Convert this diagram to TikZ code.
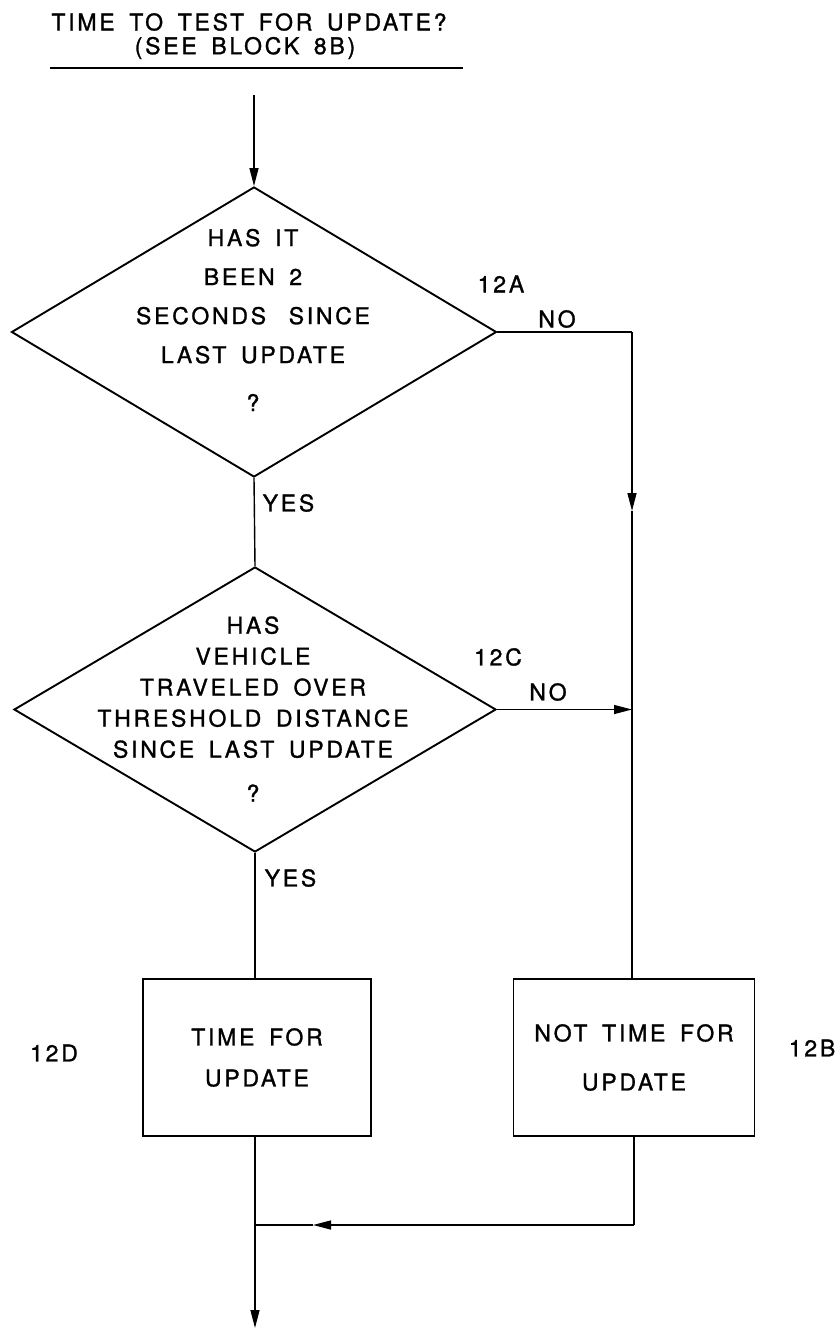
\documentclass[tikz,border=0pt]{standalone}
\usepackage{fontspec}
\setmainfont[LetterSpace=12,WordSpace=1.6,FakeBold=1.2]{TeX Gyre Heros}
\usetikzlibrary{shapes.geometric,arrows.meta}
\begin{document}
\begin{tikzpicture}[x=1pt,y=-1pt,
  line width=1.4pt,
  every node/.style={font=\fontsize{23}{27}\selectfont, inner sep=0pt},
  decision/.style={diamond, draw, line width=1.9pt, minimum width=485pt, minimum height=290pt, inner sep=0pt},
  procbox/.style={rectangle, draw, line width=1.9pt, minimum width=230pt, minimum height=157pt},
  lbl/.style={font=\fontsize{23}{27}\selectfont},
  arr/.style={-{Triangle[length=18pt,width=9pt]}}
]
\useasboundingbox (0,0) rectangle (837,1330);

% title
\node (t1) at (249,22) {TIME TO TEST FOR UPDATE?};
\node (t2) at (245,48) {(SEE BLOCK 8B)};
\coordinate (ul) at (50,68);
\coordinate (ur) at (463,68);
\draw[line width=1.8pt] (ul) -- (ur);

% decisions
\node[decision] (d1) at (254,332) {};
\node[align=center, font=\fontsize{23}{39}\selectfont] (d1t) at (253,320)
  {HAS IT\\BEEN 2\\SECONDS\hspace{8pt} SINCE\\LAST UPDATE\\[9pt]?};
\node[decision, minimum height=285pt, minimum width=482pt] (d2) at (255,709.5) {};
\node[align=center, font=\fontsize{23}{31}\selectfont] (d2t) at (253,709)
  {HAS\\VEHICLE\\TRAVELED OVER\\THRESHOLD DISTANCE\\SINCE LAST UPDATE\\[13pt]?};

% boxes
\node[procbox, minimum width=228pt, align=center, font=\fontsize{23}{41}\selectfont] (b1) at (257,1057.5) {TIME FOR\\UPDATE};
\node[procbox, minimum width=241pt, align=center, font=\fontsize{23}{49}\selectfont] (b2) at (634,1057.5) {NOT TIME FOR\\UPDATE};

% labels
\node[lbl] (l12a) at (501,284) {12A};
\node[lbl] (l12c) at (498,657) {12C};
\node[lbl] (l12d) at (54,1053) {12D};
\node[lbl, anchor=east] (l12b) at (836,1048) {12B};
\node[lbl] (no1) at (557,319) {NO};
\node[lbl] (no2) at (548,692) {NO};
\node[lbl, anchor=west] (yes1) at (262,503) {YES};
\node[lbl, anchor=west] (yes2) at (264,878) {YES};

% connectors
\coordinate (start) at (254,95);
\draw[arr] (start) -- (d1.north);
\draw (d1.south) -- (d2.north);
\draw (d2.south) -- (d2.south |- b1.north);

\coordinate (c1) at (632,332);
\coordinate (a1) at (632,511);
\draw (d1.east) -- (c1);
\draw[arr] (c1) -- (a1);
\draw (a1) -- (a1 |- b2.north);
\draw[arr] (d2.east) -- (d2.east -| c1);

\coordinate (j) at (255,1225);
\coordinate (jr) at (634,1225);
\coordinate (a3) at (313,1225);
\coordinate (e) at (255,1328);
\draw (j |- b1.south) -- (j);
\draw[arr] (j) -- (e);
\draw (b2.south) -- (jr);
\draw[arr] (jr) -- (a3);
\draw (a3) -- (j);
\end{tikzpicture}
\end{document}
